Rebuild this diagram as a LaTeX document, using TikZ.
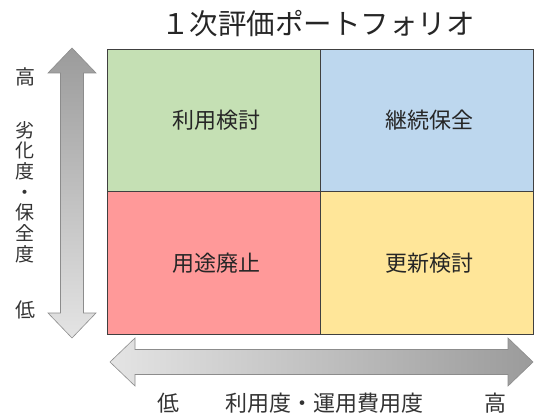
\documentclass[tikz,border=0pt]{standalone}
\usepackage{fontspec}
\setmainfont{Noto Sans CJK JP}
\definecolor{cgreen}{RGB}{197,224,180}
\definecolor{cblue}{RGB}{189,215,238}
\definecolor{cred}{RGB}{255,153,153}
\definecolor{cyellow}{RGB}{255,230,153}
\definecolor{gridline}{RGB}{64,64,64}
\definecolor{arrdark}{RGB}{155,155,155}
\definecolor{arrlight}{RGB}{228,228,228}
\definecolor{arredge}{RGB}{140,140,140}
\tikzset{
  cell/.style={draw=gridline, line width=0.8pt, minimum width=213pt, minimum height=142.5pt, inner sep=0pt, font=\fontsize{22}{24}\selectfont, text=black!85},
  axislabel/.style={inner sep=0pt, font=\fontsize{20}{22}\selectfont, text=black!80},
  bottomlabel/.style={inner sep=0pt, anchor=base, font=\fontsize{22}{24}\selectfont, text=black!80},
  arrowshape/.style={draw=arredge, line width=0.6pt}
}
\begin{document}
\begin{tikzpicture}[x=1pt,y=1pt]
\useasboundingbox (0,0) rectangle (541,416);
\fill[white] (0,0) rectangle (541,416);
% arrows
\shade[arrowshape, top color=arrdark, bottom color=arrlight]
  (72,368) -- (96,343) -- (83.5,343) -- (83.5,103) -- (96,103) -- (72,78)
  -- (48,103) -- (60.5,103) -- (60.5,343) -- (48,343) -- cycle;
\shade[arrowshape, left color=arrlight, right color=arrdark]
  (110,54) -- (135,78) -- (135,66.5) -- (508,66.5) -- (508,78) -- (533,54)
  -- (508,30) -- (508,41.5) -- (135,41.5) -- (135,30) -- cycle;
% cells
\node[cell, fill=cgreen] (c11) at (213.5,295.75) {\hspace{6pt}利用検討};
\node[cell, fill=cblue] (c12) at (426.5,295.75) {\hspace{6pt}継続保全};
\node[cell, fill=cred] (c21) at (213.5,153.25) {\hspace{6pt}用途廃止};
\node[cell, fill=cyellow] (c22) at (426.5,153.25) {\hspace{6pt}更新検討};
% title
\node[inner sep=0pt, font=\fontsize{28.5}{30}\selectfont, text=black!85] (title) at (318,392) {１次評価ポートフォリオ};
% vertical axis labels
\node[axislabel] (yhigh) at (25,339) {高};
\node[axislabel, align=center, font=\fontsize{19}{20.7}\selectfont] (ylabel) at (25,224) {劣\\化\\度\\・\\保\\全\\度};
\node[axislabel] (ylow) at (25,106) {低};
% horizontal axis labels
\node[bottomlabel] (xlow) at (168,5) {低};
\node[bottomlabel] (xlabel) at (324,5) {利用度・運用費用度};
\node[bottomlabel] (xhigh) at (495,5) {高};
\end{tikzpicture}
\end{document}
